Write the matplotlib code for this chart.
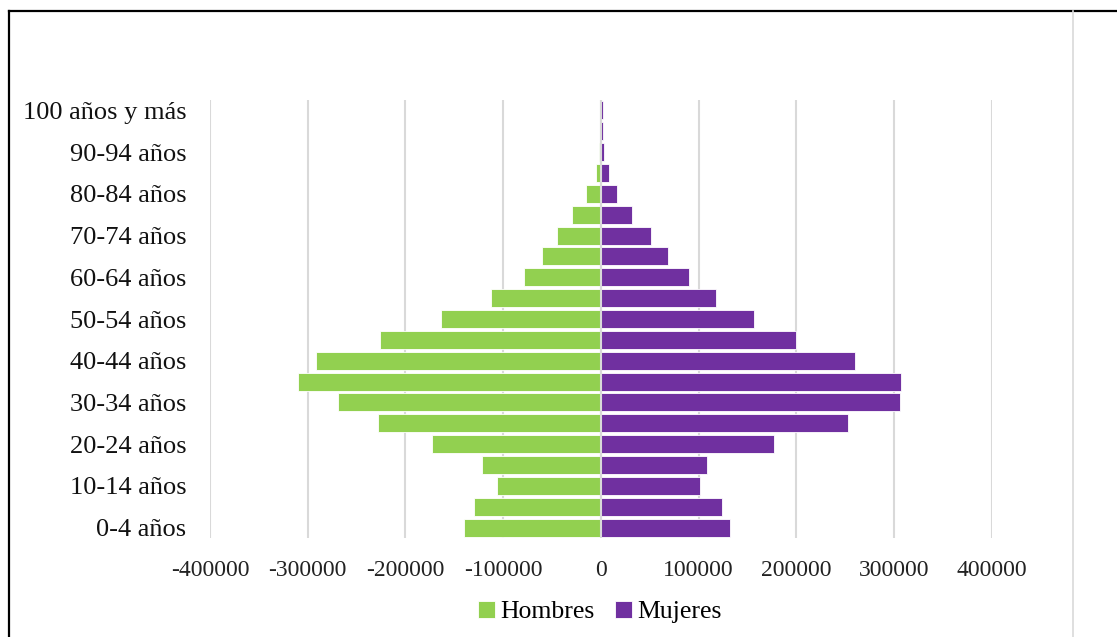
import numpy as np
import matplotlib
matplotlib.use("Agg")
import matplotlib.pyplot as plt
from matplotlib.lines import Line2D

# age groups, bottom to top
grupos = ['0-4 años', '5-9 años', '10-14 años', '15-19 años', '20-24 años',
          '25-29 años', '30-34 años', '35-39 años', '40-44 años', '45-49 años',
          '50-54 años', '55-59 años', '60-64 años', '65-69 años', '70-74 años',
          '75-79 años', '80-84 años', '85-89 años', '90-94 años', '95-99 años',
          '100 años y más']
hombres = [140000, 130000, 106000, 122000, 173000, 228000, 269000, 310000,
           292000, 226000, 164000, 112000, 79000, 60000, 45000, 30000, 15000,
           5000, 1500, 500, 200]
mujeres = [132000, 124000, 101000, 108000, 177000, 253000, 306000, 307000,
           260000, 200000, 157000, 118000, 90000, 69000, 51000, 32000, 16500,
           8500, 3000, 2500, 2000]
xticks = [-400000, -300000, -200000, -100000, 0, 100000, 200000, 300000, 400000]

plt.rcParams['font.family'] = ['Liberation Serif', 'DejaVu Serif']

fig = plt.figure(figsize=(11.17, 6.37), dpi=100)
ax = fig.add_axes([0.188, 0.1554, 0.700, 0.6876])

y = np.arange(len(grupos))
ax.barh(y, [-v for v in hombres], height=0.86, color='#92D050',
        edgecolor='white', linewidth=0.6, label='Hombres', zorder=3)
ax.barh(y, mujeres, height=0.86, color='#7030A0',
        edgecolor='white', linewidth=0.6, label='Mujeres', zorder=3)

ax.set_xlim(-400000, 400000)
ax.set_ylim(-0.5, len(grupos) - 0.5)
ax.set_xticks(xticks)
ax.set_xticklabels([str(v) for v in xticks], fontsize=17, color='#222222')
ax.set_yticks(y[::2])
ax.set_yticklabels(grupos[::2], fontsize=19, color='#111111')
ax.tick_params(axis='both', length=0)
ax.tick_params(axis='y', pad=17)
ax.tick_params(axis='x', pad=16)
for s in ax.spines.values():
    s.set_visible(False)
ax.grid(axis='x', color='#D9D9D9', linewidth=1.5, zorder=0)
ax.axvline(0, color='#D9D9D9', linewidth=1.5, zorder=4)

fig.legend(loc='center', bbox_to_anchor=(0.537, 0.039), ncol=2,
           frameon=False, fontsize=18.5, handlelength=0.65, handleheight=0.65,
           handletextpad=0.2, columnspacing=0.8)

# outer frame
fig.add_artist(Line2D([8.5 / 1117, 8.5 / 1117], [0, 1 - 11 / 637],
                      transform=fig.transFigure, color='black', linewidth=1.6))
fig.add_artist(Line2D([8.5 / 1117, 1], [1 - 11 / 637, 1 - 11 / 637],
                      transform=fig.transFigure, color='black', linewidth=1.6))
fig.add_artist(Line2D([1073 / 1117, 1073 / 1117], [0, 1 - 11 / 637],
                      transform=fig.transFigure, color='#D9D9D9', linewidth=1.2))

fig.savefig('out.png', dpi=100)
